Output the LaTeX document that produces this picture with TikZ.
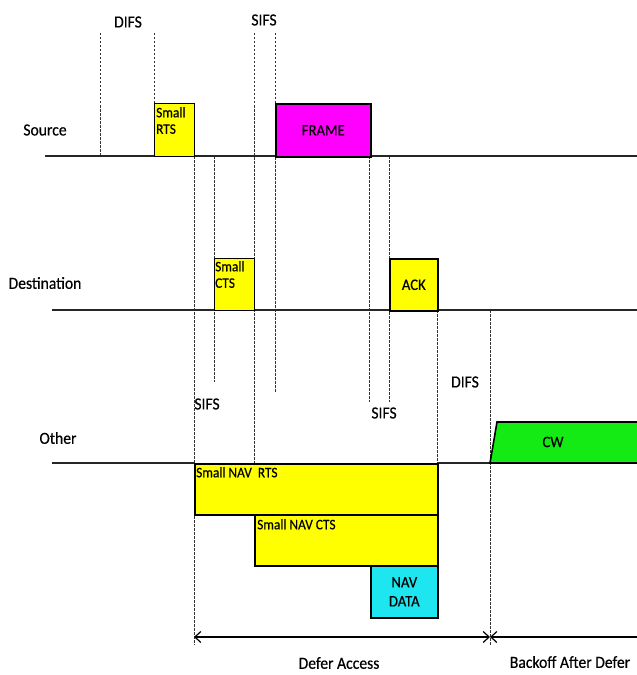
\documentclass[tikz,border=0pt]{standalone}
\usepackage{fontspec}
\setmainfont{Carlito}
\newfontfamily\lbfont[FakeStretch=0.92,FakeBold=0.4]{Carlito}
\usetikzlibrary{arrows.meta}
\definecolor{cyel}{RGB}{255,255,0}
\definecolor{cmag}{RGB}{255,0,255}
\definecolor{ccyan}{RGB}{30,230,240}
\definecolor{cgreen}{RGB}{20,235,20}
\tikzset{
  lbl/.style={font=\lbfont\fontsize{17bp}{19bp}\selectfont, inner sep=0pt},
  sml/.style={font=\lbfont\fontsize{14.5bp}{16.5bp}\selectfont, inner sep=0pt, align=left},
  box/.style={draw=black, line width=1.6bp, inner sep=0pt, anchor=north west},
  vdash/.style={dashed, dash pattern=on 2.5bp off 1.5bp, line width=0.9bp, draw=black!80},
  axis/.style={line width=1.2bp, draw=black!85},
  dim/.style={line width=1.2bp, {Straight Barb[length=6bp,width=11bp]}-{Straight Barb[length=6bp,width=11bp]}},
  diml/.style={line width=1.2bp, {Straight Barb[length=6bp,width=11bp]}-}
}
\begin{document}
\begin{tikzpicture}[x=1bp,y=-1bp]
\useasboundingbox[fill=white] (0,0) rectangle (637,675);

% coordinates for lines
\coordinate (sL) at (45,156);   \coordinate (sR) at (637,156);
\coordinate (dL) at (52,310);   \coordinate (dR) at (637,310);
\coordinate (oL) at (52,463);   \coordinate (oM) at (194,463);
\coordinate (oA) at (437,463);  \coordinate (oB) at (490,463);

% vertical dashed lines
\coordinate (v1t) at (100,33);  \coordinate (v1b) at (100,156);
\coordinate (v2t) at (154,33);  \coordinate (v2b) at (154,103);
\coordinate (v3t) at (194,156); \coordinate (v3b) at (194,645);
\coordinate (v4t) at (214,156); \coordinate (v4b) at (214,382);
\coordinate (v5t) at (254,33);  \coordinate (v5b) at (254,463);
\coordinate (v6t) at (275,33);  \coordinate (v6b) at (275,392);
\coordinate (v7t) at (369,156); \coordinate (v7b) at (369,402);
\coordinate (v8t) at (389,156); \coordinate (v8b) at (389,402);
\coordinate (v9t) at (437,310); \coordinate (v9b) at (437,463);
\coordinate (v10t) at (490,310); \coordinate (v10b) at (490,645);

\foreach \i in {1,...,10} \draw[vdash] (v\i t) -- (v\i b);

% time lines
\draw[axis] (sL) -- (sR);
\draw[axis] (dL) -- (dR);
\draw[axis] (oL) -- (oM);
\draw[axis] (oA) -- (oB);

% boxes
\node[box, fill=cyel, line width=1.1bp, minimum width=40bp, minimum height=53bp] (rts) at (154,103) {};
\node[box, fill=cmag, minimum width=95bp, minimum height=53bp] (frame) at (275,103) {};
\node[box, fill=cyel, line width=1.1bp, minimum width=40bp, minimum height=52bp] (cts) at (214,258) {};
\node[box, fill=cyel, minimum width=48bp, minimum height=52bp] (ack) at (389,258) {};
\node[box, fill=cyel, minimum width=243bp, minimum height=51bp] (navrts) at (194,463) {};
\node[box, fill=cyel, minimum width=183bp, minimum height=51bp] (navcts) at (254,514) {};
\node[box, fill=ccyan, minimum width=67bp, minimum height=52bp] (navdata) at (370,565) {};
\draw[line width=1.6bp, fill=cgreen] (oB) -- (497,422) -- (640,422) -- (640,463) -- cycle;
\node[lbl, font=\lbfont\fontsize{16bp}{18bp}\selectfont] (cw) at (553,442) {CW};

% box texts
\node[sml, anchor=north west] (trts) at (156,107) {Small\\RTS};
\node[lbl, font=\lbfont\fontsize{16bp}{18bp}\selectfont] (tframe) at (frame.center) {FRAME};
\node[sml, anchor=north west] (tcts) at (215,261) {Small\\CTS};
\node[lbl, font=\lbfont\fontsize{16bp}{18bp}\selectfont] (tack) at (ack.center) {ACK};
\node[sml, anchor=north west] (tnavrts) at (196,467) {Small NAV\ \ RTS};
\node[sml, anchor=north west] (tnavcts) at (257,519) {Small NAV CTS};
\node[lbl, font=\lbfont\fontsize{16bp}{19bp}\selectfont, align=center] (tnavdata) at (navdata.center) {NAV\\DATA};

% row labels
\node[lbl] (src) at (45,130) {Source};
\node[lbl] (dst) at (45,283) {Destination};
\node[lbl] (oth) at (58,438) {Other};

% interval labels
\node[lbl] (difs1) at (128,22) {DIFS};
\node[lbl] (sifs1) at (264,20) {SIFS};
\node[lbl] (sifs2) at (207,404) {SIFS};
\node[lbl] (sifs3) at (384,413) {SIFS};
\node[lbl] (difs2) at (465,382) {DIFS};

% bottom arrows
\coordinate (a1) at (194,637);
\coordinate (a2) at (490,637);
\coordinate (a3) at (637,637);
\draw[dim] (a1) -- (a2);
\draw[diml] (a2) -- (a3);
\node[lbl] (defer) at (339,663) {Defer Access};
\node[lbl] (backoff) at (570,662) {Backoff After Defer};
\end{tikzpicture}
\end{document}
